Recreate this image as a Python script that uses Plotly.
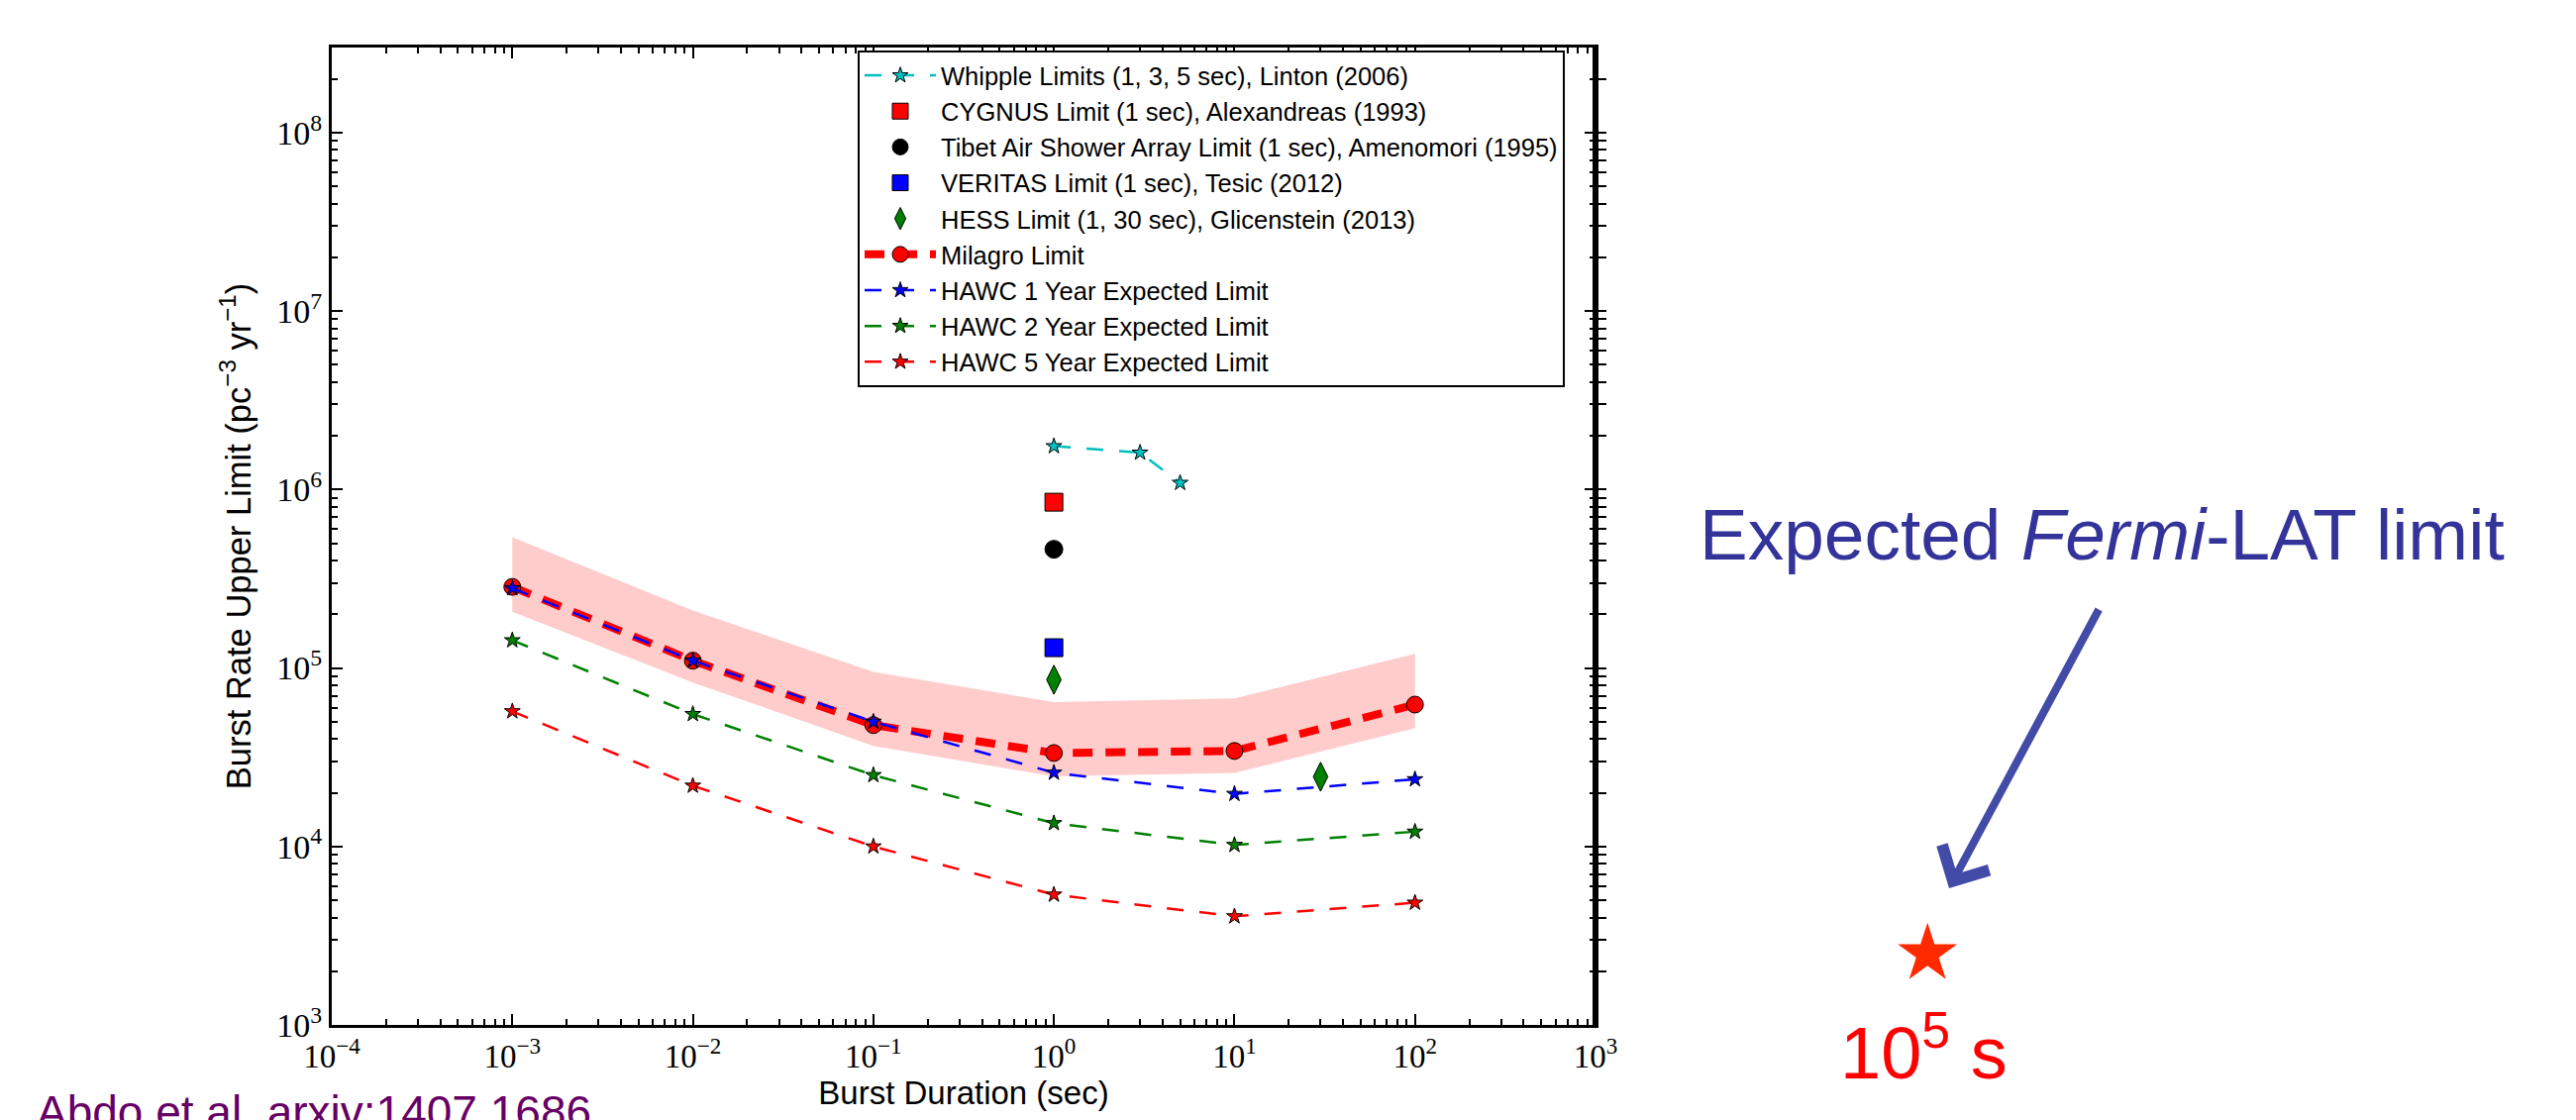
import math
import plotly.graph_objects as go

# ---------------- data ----------------
durations = [1e-3, 1e-2, 1e-1, 1, 10, 100]

whipple_x = [1, 3, 5]
whipple_y = [1.75e6, 1.61e6, 1.09e6]

cygnus_x = [1]
cygnus_y = [8.5e5]

tibet_x = [1]
tibet_y = [4.63e5]

veritas_x = [1]
veritas_y = [1.30e5]

hess_x = [1, 30]
hess_y = [8.6e4, 2.46e4]

milagro_y = [2.85e5, 1.10e5, 4.79e4, 3.34e4, 3.43e4, 6.24e4]
milagro_lo = [2.07e5, 8.3e4, 3.66e4, 2.47e4, 2.58e4, 4.61e4]
milagro_hi = [5.41e5, 2.1e5, 9.5e4, 6.45e4, 6.75e4, 1.2e5]

hawc1_y = [2.8e5, 1.1e5, 5.0e4, 2.59e4, 1.97e4, 2.38e4]
hawc2_y = [1.43e5, 5.52e4, 2.51e4, 1.35e4, 1.02e4, 1.21e4]
hawc5_y = [5.72e4, 2.19e4, 1.0e4, 5.37e3, 4.06e3, 4.84e3]

# expected Fermi-LAT point, shown to the right of the axes
fermi_x = [6.9e4]
fermi_y = [2.5e3]

x_decades = [-4, -3, -2, -1, 0, 1, 2, 3]
y_decades = [3, 4, 5, 6, 7, 8]

# ---------------- layout constants ----------------
W, H = 2601, 1131
L, R, T, B = 327, 0, 40, 104
AX_W = 1276                      # width of the framed axes in px
PW, PH = W - L - R, H - T - B
DEC_PX = AX_W / (x_decades[-1] - x_decades[0])
X_DOM = AX_W / PW


def px_x(p):
    return (p - L) / PW


def px_y(p):
    return (H - B - p) / PH


def sup_label(d):
    s = str(d).replace("-", "\u2212")
    return "10<sup>" + s + "</sup>"


def minor_vals(decs):
    out = []
    for d in decs[:-1]:
        for k in range(2, 10):
            out.append(k * 10 ** d)
    return out


CYAN = "#00BFBF"
GREEN = "#008000"
BLUE = "#0000FF"
RED = "#FF0000"
EDGE = dict(color="black", width=1)

fig = go.Figure()

# uncertainty band of Milagro
fig.add_trace(go.Scatter(x=durations, y=milagro_lo, mode="lines",
                         line=dict(width=0, color="#FFCCCC"),
                         showlegend=False, hoverinfo="skip"))
fig.add_trace(go.Scatter(x=durations, y=milagro_hi, mode="lines",
                         line=dict(width=0, color="#FFCCCC"),
                         fill="tonexty", fillcolor="#FFCCCC",
                         showlegend=False, hoverinfo="skip"))

fig.add_trace(go.Scatter(x=whipple_x, y=whipple_y, mode="lines+markers",
                         name="Whipple Limits (1, 3, 5 sec), Linton (2006)",
                         line=dict(color=CYAN, width=2.5, dash="17px,16px"),
                         marker=dict(symbol="star", size=12, color=CYAN, line=EDGE)))
fig.add_trace(go.Scatter(x=cygnus_x, y=cygnus_y, mode="markers",
                         name="CYGNUS Limit (1 sec), Alexandreas (1993)",
                         marker=dict(symbol="square", size=18, color=RED, line=EDGE)))
fig.add_trace(go.Scatter(x=tibet_x, y=tibet_y, mode="markers",
                         name="Tibet Air Shower Array Limit (1 sec), Amenomori (1995)",
                         marker=dict(symbol="circle", size=18, color="black", line=EDGE)))
fig.add_trace(go.Scatter(x=veritas_x, y=veritas_y, mode="markers",
                         name="VERITAS Limit (1 sec), Tesic (2012)",
                         marker=dict(symbol="square", size=18, color=BLUE, line=EDGE)))
fig.add_trace(go.Scatter(x=hess_x, y=hess_y, mode="markers",
                         name="HESS Limit (1, 30 sec), Glicenstein (2013)",
                         marker=dict(symbol="diamond-tall", size=21, color=GREEN, line=EDGE)))
fig.add_trace(go.Scatter(x=durations, y=milagro_y, mode="lines+markers",
                         name="Milagro Limit",
                         line=dict(color=RED, width=8, dash="20px,13px"),
                         marker=dict(symbol="circle", size=17, color=RED, line=EDGE)))
fig.add_trace(go.Scatter(x=durations, y=hawc1_y, mode="lines+markers",
                         name="HAWC 1 Year Expected Limit",
                         line=dict(color=BLUE, width=2.5, dash="17px,16px"),
                         marker=dict(symbol="star", size=12, color=BLUE, line=EDGE)))
fig.add_trace(go.Scatter(x=durations, y=hawc2_y, mode="lines+markers",
                         name="HAWC 2 Year Expected Limit",
                         line=dict(color=GREEN, width=2.5, dash="17px,16px"),
                         marker=dict(symbol="star", size=12, color=GREEN, line=EDGE)))
fig.add_trace(go.Scatter(x=durations, y=hawc5_y, mode="lines+markers",
                         name="HAWC 5 Year Expected Limit",
                         line=dict(color=RED, width=2.5, dash="17px,16px"),
                         marker=dict(symbol="star", size=12, color=RED, line=EDGE)))

# expected Fermi-LAT point on a hidden continuation of the duration axis
fig.add_trace(go.Scatter(x=fermi_x, y=fermi_y, xaxis="x2", yaxis="y",
                         mode="markers", cliponaxis=False,
                         showlegend=False, hoverinfo="skip",
                         marker=dict(symbol="star", size=45, color="#FF2A00",
                                     line=dict(width=0))))

XTICKFONT = dict(family="Liberation Serif", size=33, color="black")
YTICKFONT = dict(family="Liberation Serif", size=34, color="black")
TITLEFONT = dict(family="Liberation Sans", size=33, color="black")

common = dict(type="log", showline=True, linewidth=3, linecolor="black",
              mirror="allticks", ticks="inside", ticklen=11, tickwidth=1.5,
              tickcolor="black", showgrid=False, zeroline=False)

fig.update_layout(
    xaxis=dict(domain=[0, X_DOM],
               range=[x_decades[0], x_decades[-1]],
               tickvals=[10 ** d for d in x_decades],
               ticktext=[sup_label(d) for d in x_decades],
               tickfont=XTICKFONT,
               minor=dict(tickvals=minor_vals(x_decades), ticks="inside",
                          ticklen=6, tickwidth=1.5, tickcolor="black", showgrid=False),
               title=dict(text="Burst Duration (sec)", font=TITLEFONT, standoff=2),
               **common),
    xaxis2=dict(domain=[X_DOM, 1], anchor="y", type="log", visible=False,
                range=[x_decades[-1], x_decades[-1] + (PW - AX_W) / DEC_PX],
                showgrid=False, zeroline=False),
    yaxis=dict(range=[y_decades[0], math.log10(3e8)],
               tickvals=[10 ** d for d in y_decades],
               ticktext=[sup_label(d) for d in y_decades],
               tickfont=YTICKFONT,
               minor=dict(tickvals=minor_vals(y_decades + [9]), ticks="inside",
                          ticklen=6, tickwidth=1.5, tickcolor="black", showgrid=False),
               title=dict(text="Burst Rate Upper Limit (pc<sup>\u22123</sup> yr<sup>\u22121</sup>)",
                          font=dict(family="Liberation Sans", size=34.5, color="black"),
                          standoff=16),
               **common),
)

fig.update_layout(
    width=W, height=H,
    margin=dict(l=L, r=R, t=T, b=B, autoexpand=False),
    paper_bgcolor="white", plot_bgcolor="white",
    showlegend=True,
    legend=dict(x=px_x(858), y=px_y(43), xanchor="left", yanchor="top",
                traceorder="normal",
                bgcolor="white", bordercolor="black", borderwidth=2,
                font=dict(family="Liberation Sans", size=25.5, color="black"),
                itemwidth=72, itemsizing="trace", tracegroupgap=0),
    annotations=[
        dict(xref="paper", yref="paper", x=px_x(1706), y=px_y(531),
             xanchor="left", yanchor="middle", showarrow=False,
             text="Expected <i>Fermi</i>-LAT limit",
             font=dict(family="Liberation Sans", size=73, color="#333399")),
        dict(xref="paper", yref="paper", x=px_x(1960), y=px_y(889),
             ax=152, ay=-283, showarrow=True, arrowhead=4, arrowsize=1.3,
             arrowwidth=8, arrowcolor="#434BA8", standoff=0, text=""),
        dict(xref="paper", yref="paper", x=px_x(1934), y=px_y(1050),
             xanchor="center", yanchor="middle", showarrow=False,
             text="10<sup>5</sup> s",
             font=dict(family="Liberation Sans", size=74, color="#FF0000")),
        dict(xref="paper", yref="paper", x=px_x(27), y=px_y(1115),
             xanchor="left", yanchor="middle", showarrow=False,
             text="Abdo et al. arxiv:1407.1686",
             font=dict(family="Liberation Sans", size=46, color="#660066")),
    ],
)

fig.write_html("out.html")
